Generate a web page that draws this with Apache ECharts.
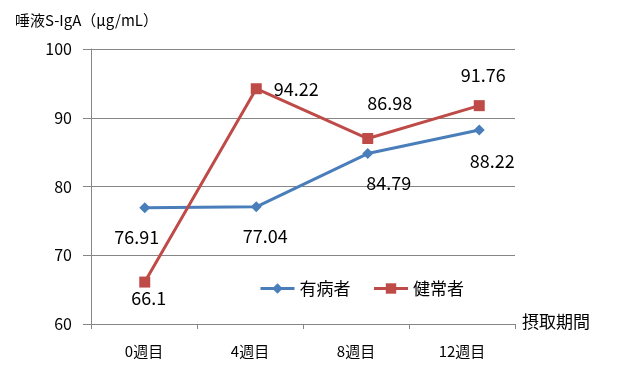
<!DOCTYPE html>
<html><head><meta charset="utf-8">
<script src="https://cdn.jsdelivr.net/npm/echarts@6/dist/echarts.min.js"></script>
<style>html,body{margin:0;padding:0;background:#fff}#c{width:636px;height:379px}</style>
</head><body><div id="c"></div>
<script>
const categories = ['0週目', '4週目', '8週目', '12週目'];
const patients = [76.91, 77.04, 84.79, 88.22];
const healthy = [66.1, 94.22, 86.98, 91.76];
const yTicks = [60, 70, 80, 90, 100];
const seriesNames = ['有病者', '健常者'];
const yTitle = '唾液S-IgA（μg/mL）';
const xTitle = '摂取期間';

const FF = '"Noto Sans CJK JP", "Noto Sans", sans-serif';
const BLUE = '#4A7EBB', RED = '#BE4B48', GRAY = '#868686';

const blueOffsets = [[-8, 0], [9, 0], [21, 0], [13, 2]];
const redPos = [
  {position: 'bottom', offset: [4, -4]},
  {position: 'right', offset: [6, 0]},
  {position: 'top', offset: [22, -15]},
  {position: 'top', offset: [4, -10]}
];

const chart = echarts.init(document.getElementById('c'));
chart.setOption({
  animation: false,
  title: {text: yTitle, left: 10, top: 8, textStyle: {fontFamily: FF, fontSize: 15, fontWeight: 'normal', color: '#000'}},
  legend: {
    data: seriesNames, left: 254, top: 275, itemWidth: 34, itemHeight: 13, itemGap: 22,
    lineStyle: {width: 3},
    textStyle: {fontFamily: FF, fontSize: 17, color: '#000'}
  },
  grid: [
    {left: 91, right: 121, top: 49, bottom: 55},
    {left: 89, right: 101, top: 49, bottom: 55}
  ],
  xAxis: [
    {type: 'category', gridIndex: 0, data: categories, boundaryGap: true,
     axisLine: {lineStyle: {color: GRAY, width: 1}},
     axisTick: {show: true, length: 5, lineStyle: {color: GRAY}},
     axisLabel: {fontFamily: FF, fontSize: 15, color: '#000', margin: 20},
     name: xTitle, nameLocation: 'end', nameGap: 7,
     nameTextStyle: {fontFamily: FF, fontSize: 17, color: '#000', verticalAlign: 'bottom', padding: [0, 0, -6, 0]}},
    {type: 'category', gridIndex: 1, data: categories, boundaryGap: true, show: false}
  ],
  yAxis: [
    {type: 'value', gridIndex: 0, min: yTicks[0], max: yTicks[yTicks.length - 1], interval: 10,
     axisLine: {show: true, lineStyle: {color: GRAY, width: 1}},
     axisTick: {show: true, length: 8, inside: false, lineStyle: {color: GRAY, width: 1}},
     splitLine: {lineStyle: {color: GRAY, width: 1}},
     axisLabel: {fontFamily: FF, fontSize: 16, color: '#000', margin: 19}},
    {type: 'value', gridIndex: 1, min: yTicks[0], max: yTicks[yTicks.length - 1], interval: 10, show: false,
     splitLine: {show: false}}
  ],
  series: [
    {name: seriesNames[0], type: 'line', xAxisIndex: 1, yAxisIndex: 1,
     data: patients.map((v, i) => ({value: v, label: {offset: blueOffsets[i]}})),
     symbol: 'diamond', symbolSize: 11, lineStyle: {color: BLUE, width: 3}, itemStyle: {color: BLUE},
     label: {show: true, position: 'bottom', distance: 15, fontFamily: FF, fontSize: 18, color: '#000'}},
    {name: seriesNames[1], type: 'line', xAxisIndex: 1, yAxisIndex: 1,
     data: healthy.map((v, i) => ({value: v, label: redPos[i]})),
     symbol: 'rect', symbolSize: 11, lineStyle: {color: RED, width: 3}, itemStyle: {color: RED},
     label: {show: true, distance: 6, fontFamily: FF, fontSize: 18, color: '#000'}}
  ]
});
</script></body></html>
